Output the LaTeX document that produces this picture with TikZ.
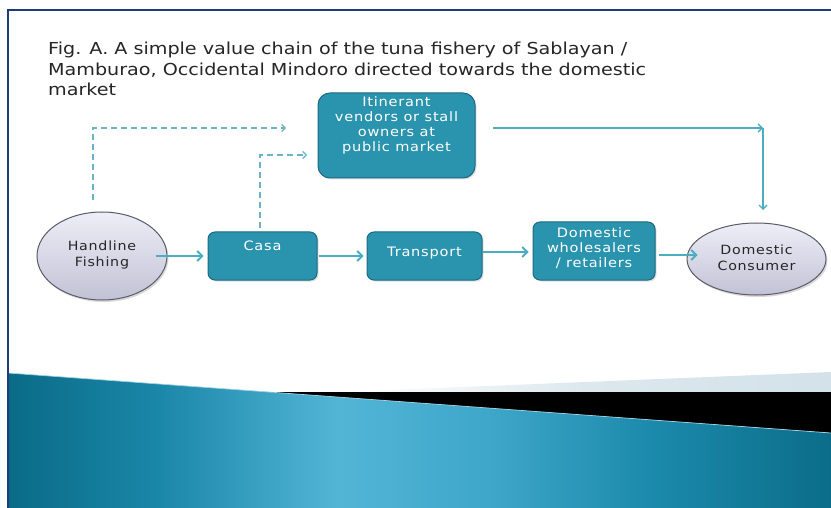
\documentclass[tikz,border=0pt]{standalone}
\usepackage{fontspec}
\setmainfont{DejaVu Sans}
\newfontfamily\titlefont[FakeStretch=1.16]{DejaVu Sans}
\newfontfamily\nodefont[FakeStretch=1.12,LetterSpace=6]{DejaVu Sans}
\usetikzlibrary{arrows.meta,shadows,shapes.geometric}

\definecolor{framenavy}{HTML}{1E3C7A}
\definecolor{boxfill}{HTML}{2A93AD}
\definecolor{boxline}{HTML}{1D6A80}
\definecolor{flowline}{HTML}{4AADC2}
\definecolor{dashline}{HTML}{6AB4C6}
\definecolor{ovaltop}{HTML}{EEEEF7}
\definecolor{ovalbot}{HTML}{C2C2D6}
\definecolor{ovalline}{HTML}{5A5A68}
\definecolor{titlegray}{HTML}{262626}
\definecolor{bandedge}{HTML}{9FD2E2}
\definecolor{tealA}{HTML}{0A6B87}
\definecolor{tealB}{HTML}{1A86A8}
\definecolor{tealC}{HTML}{52B5D6}
\definecolor{tealD}{HTML}{3FA7CA}
\definecolor{tealE}{HTML}{1C8AAC}
\definecolor{tealF}{HTML}{0B6D89}
\definecolor{paleA}{HTML}{DCE8EE}
\definecolor{paleB}{HTML}{D3E2E9}

% teal band: path spans 25bp..75bp of the shading
\pgfdeclarehorizontalshading{tealband}{100bp}{%
  color(0bp)=(tealA);
  color(25bp)=(tealA);
  color(34bp)=(tealB);
  color(45bp)=(tealC);
  color(54bp)=(tealD);
  color(64bp)=(tealE);
  color(75bp)=(tealF);
  color(100bp)=(tealF)}
\pgfdeclarehorizontalshading{paleshade}{100bp}{%
  color(0bp)=(white);
  color(25bp)=(white);
  color(50bp)=(paleA);
  color(75bp)=(paleB);
  color(100bp)=(paleB)}

\tikzset{
  stage/.style={rectangle, rounded corners=7pt, fill=boxfill, draw=boxline,
    line width=1pt, drop shadow={opacity=0.25, shadow xshift=1.5pt, shadow yshift=-1.5pt}},
  stagetext/.style={font=\nodefont\fontsize{13}{15}\selectfont, text=white, align=center, inner sep=0pt},
  oval/.style={ellipse, top color=ovaltop, bottom color=ovalbot, draw=ovalline,
    line width=1pt, drop shadow={opacity=0.3, shadow xshift=1.5pt, shadow yshift=-2pt}},
  ovaltext/.style={font=\nodefont\fontsize{12.7}{16}\selectfont, text=black!85, align=center, inner sep=0pt},
  flow/.style={draw=flowline, line width=2pt, -{Straight Barb[length=5pt,width=10pt,line width=1.8pt]}},
  sideflow/.style={draw=flowline, line width=1.4pt, -{Straight Barb[length=4pt,width=8pt,line width=1.3pt]}},
  dashflow/.style={draw=dashline, line width=1.3pt, dash pattern=on 6pt off 4pt,
    -{Straight Barb[length=3.5pt,width=7pt,line width=1.2pt]}},
}

\begin{document}
\begin{tikzpicture}[x=1pt, y=-1pt]
\useasboundingbox (0,0) rectangle (831,508);
\fill[white] (0,0) rectangle (831,508);

% lower decorative band
\shade[shading=paleshade] (340,392) -- (831,372) -- (831,392) -- cycle;
\fill[black] (265,392) -- (831,392) -- (831,433) -- cycle;
\shade[shading=tealband] (8,373) -- (831,433) -- (831,508) -- (8,508) -- cycle;
\draw[bandedge, line width=0.7pt] (8,373) -- (831,433);

% slide frame
\draw[framenavy, line width=2pt] (8,508) -- (8,10) -- (831,10);

% heading
\node[anchor=north west, inner sep=0pt, align=left, text=titlegray,
      font=\titlefont\fontsize{16.5}{20.3}\selectfont] (title) at (48,42)
  {Fig. A. A simple value chain of the tuna fishery of Sablayan /\\
   Mamburao, Occidental Mindoro directed towards the domestic\\
   market};

% stages of the chain
\node[oval, minimum width=130pt, minimum height=88pt] (fishing) at (102,256) {};
\node[ovaltext] (fishingtext) at (102,255) {Handline\\Fishing};

\node[stage, minimum width=109pt, minimum height=48pt] (casa) at (262.5,256) {};
\node[stagetext] (casatext) at (262.5,246) {Casa};

\node[stage, minimum width=115pt, minimum height=48pt] (transport) at (424.5,256) {};
\node[stagetext] (transporttext) at (424.5,253) {Transport};

\node[stage, minimum width=122pt, minimum height=58pt] (wholesale) at (594,251) {};
\node[stagetext] (wholesaletext) at (594,248) {Domestic\\wholesalers\\/ retailers};

\node[oval, minimum width=139pt, minimum height=72pt] (consumer) at (756.5,259) {};
\node[ovaltext] (consumertext) at (756.5,257.5) {Domestic\\Consumer};

\node[stage, rounded corners=12pt, minimum width=157pt, minimum height=85pt] (itinerant) at (396.5,135.5) {};
\node[stagetext] (itineranttext) at (396.5,125.5) {Itinerant\\vendors or stall\\owners at\\public market};

% main chain
\draw[flow] ([xshift=-12pt]fishing.east) -- ([xshift=-4pt]casa.west);
\draw[flow] ([xshift=1pt]casa.east) -- ([xshift=-3pt]transport.west);
\draw[flow] (transport.east |- 0,252) -- ([xshift=-4pt]wholesale.west |- 0,252);
\draw[flow] ([xshift=3pt]wholesale.east |- 0,255) -- ([xshift=11pt]consumer.west |- 0,255);

% side channel through the public market
\coordinate (fishup) at (93,200);
\coordinate (fishbend) at (93,128);
\coordinate (fishend) at (286,128);
\coordinate (casaup) at (260,228);
\coordinate (casabend) at (260,155);
\coordinate (casaend) at (307,155);
\coordinate (mktstart) at (493,128);
\coordinate (mktbend) at (763,128);
\coordinate (mktend) at (763,210);

\draw[dashflow] (fishup) -- (fishbend) -- (fishend);
\draw[dashflow] (casaup) -- (casabend) -- (casaend);
\draw[sideflow] (mktstart) -- (mktbend);
\draw[sideflow] (mktbend) -- (mktend);
\end{tikzpicture}
\end{document}
